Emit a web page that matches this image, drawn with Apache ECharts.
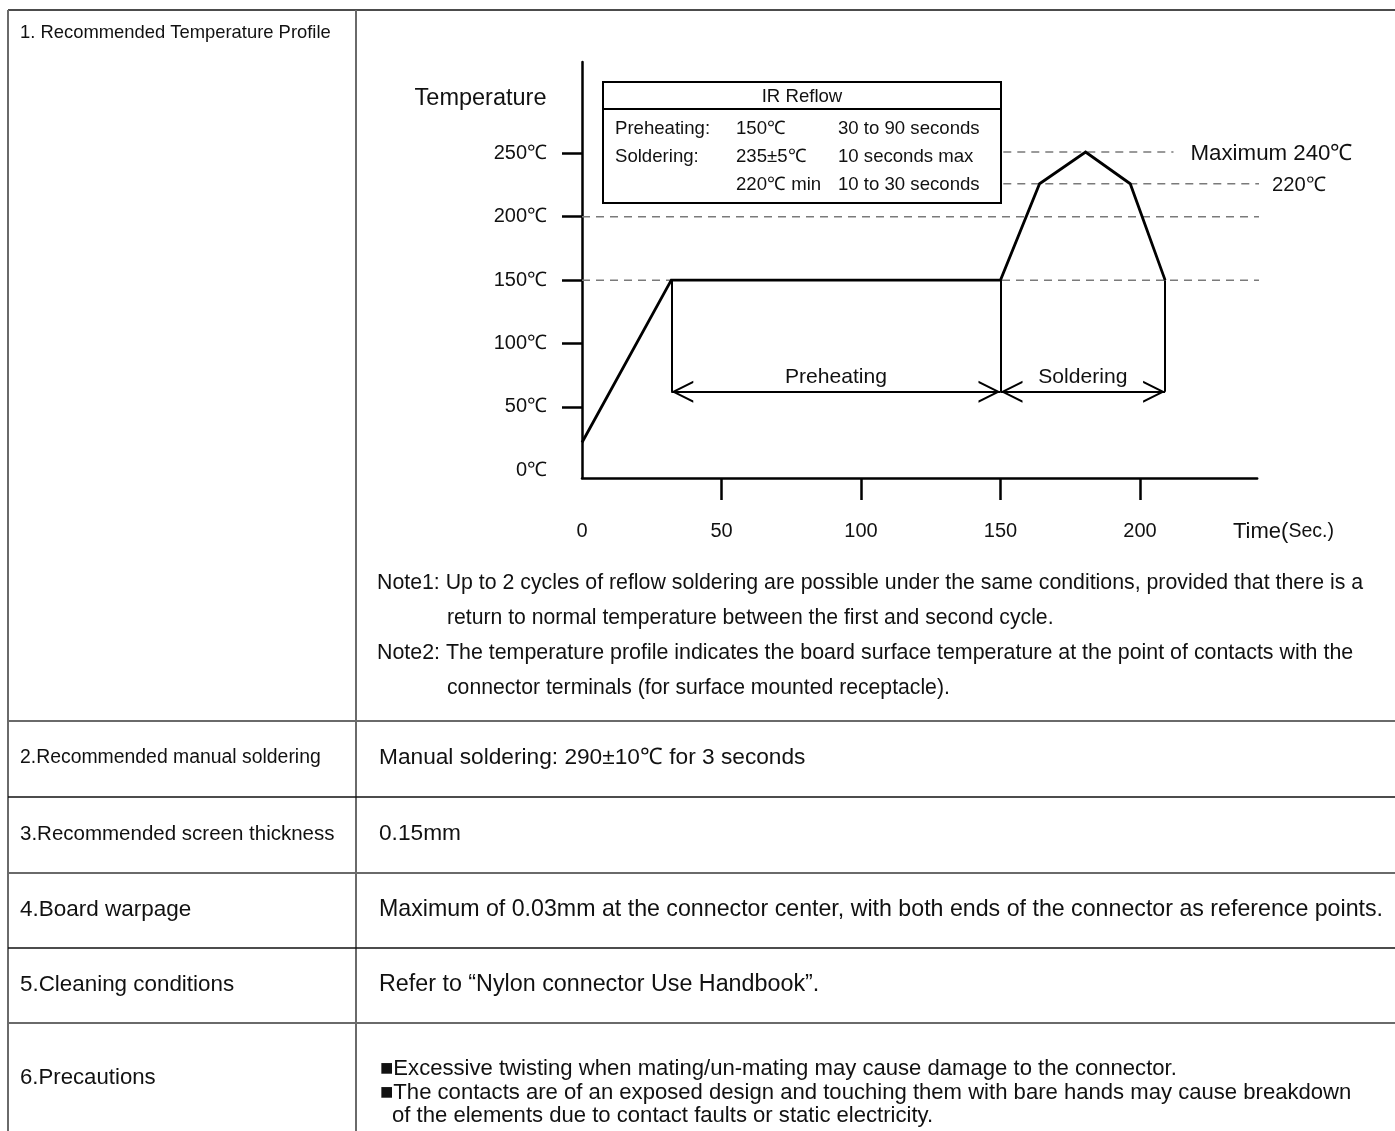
<!DOCTYPE html>
<html><head><meta charset="utf-8">
<script src="https://cdn.jsdelivr.net/npm/echarts@6/dist/echarts.min.js"></script>
<style>html,body{margin:0;padding:0;background:#fff}#c{width:1395px;height:1131px}</style>
</head><body><div id="c"></div>
<script>
// ---------------- data ----------------
const xTickValues = [50, 100, 150, 200];
const xLabelValues = [0, 50, 100, 150, 200];
const yTickValues = [50, 100, 150, 200, 250];
const yLabelValues = [0, 50, 100, 150, 200, 250];
const profileTime = [0, 32, 150, 164, 180.5, 196.5, 209];
const profileTemp = [22, 150, 150, 226, 251, 226, 150];
const dropTimes = [32, 150, 209];
const dropTop = 150;
const arrowTemp = 62;
const spanNames = ['Preheating', 'Soldering'];
const spanStart = [32, 150];
const spanEnd = [150, 209];
const guideTemp = [150, 200, 226, 251];
const guideStart = [0, 0, 151, 151];
const guideEnd = [243, 243, 252, 212];
const guideText = ['', '', '220℃', 'Maximum 240℃'];
const boxTitle = 'IR Reflow';
const boxCol1 = ['Preheating:', 'Soldering:', ''];
const boxCol2 = ['150℃', '235±5℃', '220℃ min'];
const boxCol3 = ['30 to 90 seconds', '10 seconds max', '10 to 30 seconds'];
const rowLabels = ['1. Recommended Temperature Profile', '2.Recommended manual soldering', '3.Recommended screen thickness', '4.Board warpage', '5.Cleaning conditions', '6.Precautions'];
const rowTexts = ['Manual soldering: 290±10℃ for 3 seconds', '0.15mm', 'Maximum of 0.03mm at the connector center, with both ends of the connector as reference points.', 'Refer to “Nylon connector Use Handbook”.'];
const precautionLines = ['■Excessive twisting when mating/un-mating may cause damage to the connector.', '■The contacts are of an exposed design and touching them with bare hands may cause breakdown', 'of the elements due to contact faults or static electricity.'];
const noteLines = ['Note1: Up to 2 cycles of reflow soldering are possible under the same conditions, provided that there is a', 'return to normal temperature between the first and second cycle.', 'Note2: The temperature profile indicates the board surface temperature at the point of contacts with the', 'connector terminals (for surface mounted receptacle).'];

// ---------------- layout ----------------
const FONT = 'Liberation Sans, Arial, Helvetica, sans-serif';
const ctx = document.createElement('canvas').getContext('2d');
function fit(text, w) { ctx.font = '100px ' + FONT; return Math.round(1000 * w / ctx.measureText(text).width) / 10; }

const rowLineY = [721, 797, 873, 948, 1023];
const rowLineColor = ['#6a6a6a', '#111', '#6a6a6a', '#111', '#6a6a6a'];
const labelY = [33, 758, 834, 910, 985, 1078];
const labelW = [311, 301, 314, 171, 214, 136];
const textY = [758, 834, 910, 985];
const textW = [426, 82, 1006, 440];
const precX = [380, 380, 392], precY = [1069, 1093, 1116];
const noteX = [377, 447, 377, 447], noteY = [583, 618, 653, 688], noteW = [988, 608, 975, 504];
const guideLabelDist = [0, 0, 13, 17];
const guideLabelW = [0, 0, 54, 162];

const CHEV = 'path://M-22,-22L-21.99,-22L-22,-21.99Z M0,0L11,22L8.8,22L0,4.4L-8.8,22L-11,22Z M22,22L21.99,22L22,21.99Z';

function txt(x, y, text, size, align, extra) {
  return Object.assign({ type: 'text', x: x, y: y, z: 100, silent: true,
    style: { text: text, fontSize: size, fontFamily: FONT, fill: '#111', align: align || 'left', verticalAlign: 'middle' } }, extra || {});
}
function ln(x1, y1, x2, y2, color, w) {
  return { type: 'line', z: 90, silent: true, shape: { x1: x1, y1: y1, x2: x2, y2: y2 }, style: { stroke: color, lineWidth: w } };
}

const graphic = [];
// table frame
graphic.push(ln(8, 10, 1395, 10, '#111', 1.5));
graphic.push(ln(8, 10, 8, 1131, '#6a6a6a', 2));
graphic.push(ln(356, 10, 356, 1131, '#6a6a6a', 2));
rowLineY.forEach((y, i) => graphic.push(ln(8, y, 1395, y, rowLineColor[i], i % 2 ? 1.5 : 2)));
rowLabels.forEach((t, i) => graphic.push(txt(20, labelY[i], t, fit(t, labelW[i]))));
rowTexts.forEach((t, i) => graphic.push(txt(379, textY[i], t, fit(t, textW[i]))));
const precFs = Math.round((fit(precautionLines[2], 559) + fit(precautionLines[0], 773)) * 5) / 10;
precautionLines.forEach((t, i) => graphic.push(txt(precX[i], precY[i], t, precFs)));
noteLines.forEach((t, i) => graphic.push(txt(noteX[i], noteY[i], t, fit(t, noteW[i]))));
// chart annotations
graphic.push(txt(546.5, 99, 'Temperature', fit('Temperature', 132), 'right'));
graphic.push({ type: 'text', x: 1233, y: 532, z: 100, silent: true,
  style: { text: '{a|Time(}{b|Sec.)}', verticalAlign: 'middle', align: 'left',
    rich: { a: { fontSize: 22, fontFamily: FONT, fill: '#111' }, b: { fontSize: 19.5, fontFamily: FONT, fill: '#111' } } } });
// IR reflow box
graphic.push({ type: 'rect', z: 80, silent: true, shape: { x: 603, y: 82, width: 398, height: 121 }, style: { fill: '#fff', stroke: '#000', lineWidth: 2 } });
graphic.push(ln(603, 109, 1001, 109, '#000', 2));
const boxFs = fit('30 to 90 seconds', 141.7);
graphic.push(txt(802, 97, boxTitle, boxFs, 'center'));
const boxRowY = [129, 157, 185];
boxRowY.forEach((y, i) => {
  if (boxCol1[i]) graphic.push(txt(615, y, boxCol1[i], boxFs));
  graphic.push(txt(736, y, boxCol2[i], boxFs));
  graphic.push(txt(838, y, boxCol3[i], boxFs));
});

const series = [];
guideTemp.forEach((t, i) => {
  series.push({
    type: 'line', silent: true, clip: false, z: 1, symbol: 'none',
    data: [[guideStart[i], t], [guideEnd[i], t]],
    lineStyle: { color: '#7a7a7a', width: 1.5, type: [8, 6] },
    endLabel: guideText[i] ? { show: true, formatter: guideText[i], distance: guideLabelDist[i],
      fontSize: fit(guideText[i], guideLabelW[i]), fontFamily: FONT, color: '#111', offset: [0, 2] } : { show: false }
  });
});
series.push({
  type: 'line', silent: true, clip: false, z: 3, symbol: 'none',
  data: profileTime.map((t, i) => [t, profileTemp[i]]),
  lineStyle: { color: '#000', width: 2.8, join: 'miter' },
  markLine: {
    silent: true, symbol: 'none', animation: false,
    lineStyle: { color: '#000', width: 2, type: 'solid' }, label: { show: false },
    data: dropTimes.map(t => [{ coord: [t, dropTop] }, { coord: [t, arrowTemp] }])
  }
});
series.push({
  type: 'line', silent: true, clip: false, z: 3, symbol: 'none', data: [],
  markLine: {
    silent: true, animation: false, symbol: [CHEV, CHEV], symbolSize: 44,
    lineStyle: { color: '#000', width: 2, type: 'solid' },
    label: { show: true, position: 'insideMiddleTop', formatter: '{b}', distance: 4,
      fontSize: fit('Preheating', 102), fontFamily: FONT, color: '#111' },
    emphasis: { disabled: true },
    data: spanNames.map((n, i) => [{ name: n, coord: [spanStart[i], arrowTemp] }, { coord: [spanEnd[i], arrowTemp] }])
  }
});

const chart = echarts.init(document.getElementById('c'), null, { renderer: 'canvas' });
chart.setOption({
  animation: false,
  backgroundColor: '#fff',
  grid: { left: 582, top: 62, width: 242 * 2.79, height: 416, containLabel: false, outerBoundsMode: 'none' },
  xAxis: {
    type: 'value', min: 0, max: 242,
    axisLine: { show: true, onZero: false, lineStyle: { color: '#000', width: 2.5 } },
    axisTick: { show: true, customValues: xTickValues, length: 22, inside: false, lineStyle: { color: '#000', width: 2.5 } },
    axisLabel: { show: true, customValues: xLabelValues, margin: 43, fontSize: 20, fontFamily: FONT, color: '#111' },
    splitLine: { show: false }
  },
  yAxis: {
    type: 'value', min: -6, max: 322,
    axisLine: { show: true, onZero: false, lineStyle: { color: '#000', width: 2.5 } },
    axisTick: { show: true, customValues: yTickValues, length: 20, inside: false, lineStyle: { color: '#000', width: 2.5 } },
    axisLabel: { show: true, customValues: yLabelValues, formatter: v => v + '℃', margin: 35, fontSize: 20, fontFamily: FONT, color: '#111' },
    splitLine: { show: false }
  },
  graphic: graphic,
  series: series
});
</script></body></html>
